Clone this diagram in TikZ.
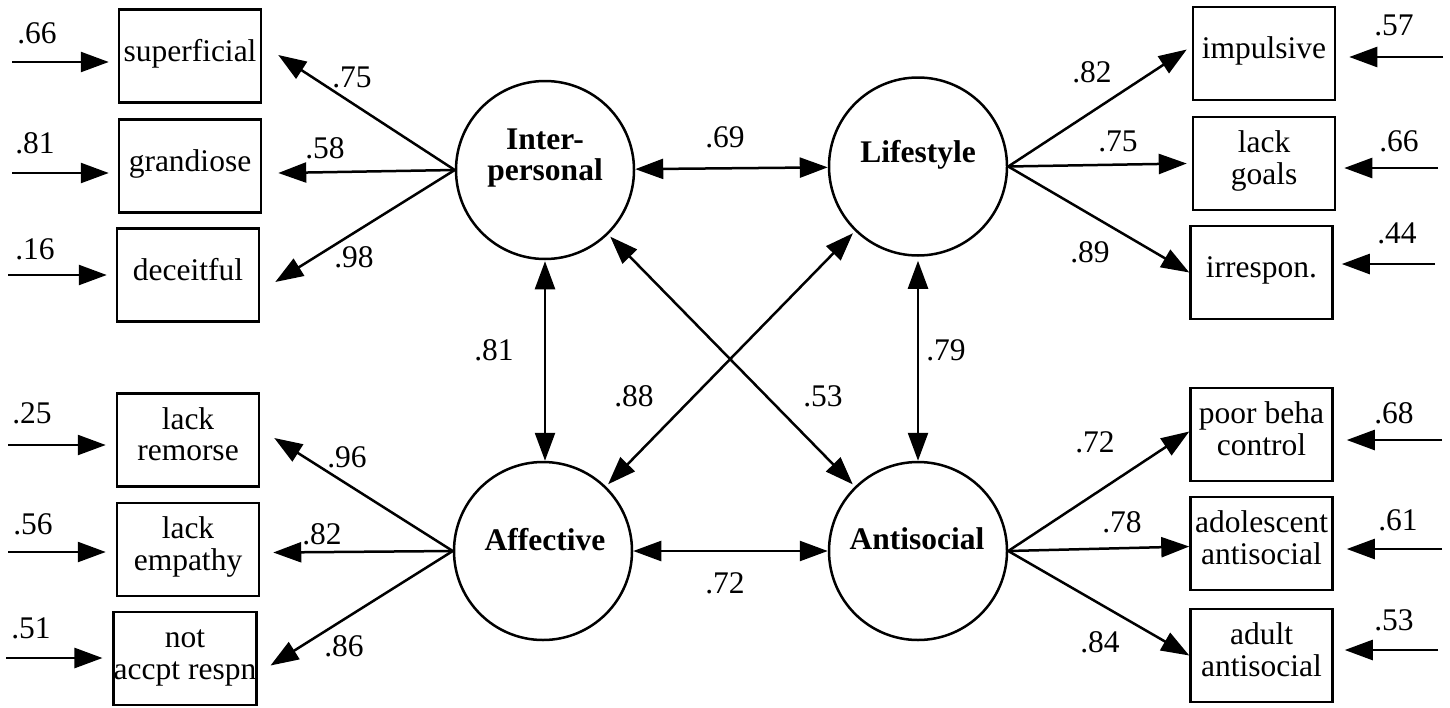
\documentclass[tikz,border=0pt]{standalone}
\usepackage{fontspec}
\setmainfont{Liberation Serif}
\usetikzlibrary{arrows.meta,calc}
\newcommand\dfont{\fontsize{31.5pt}{31.5pt}\selectfont\lineskiplimit=-1000pt\relax}
\newcommand\bstrut{\rule[-12pt]{0pt}{34pt}}
\begin{document}
\begin{tikzpicture}[x=1pt,y=-1pt,line width=2.5pt,font=\dfont,
  >={Triangle[length=28pt,width=20pt]},
  obs/.style={draw,rectangle,minimum width=142pt,minimum height=93pt,inner sep=0pt,align=center},
  latent/.style={draw,circle,minimum size=178pt,inner sep=0pt},
  lattext/.style={font=\dfont\bfseries,align=center,inner sep=0pt},
  lbl/.style={inner sep=0pt}]
\useasboundingbox (0,0) rectangle (1450,707);

% latent variables
\node[latent] (inter) at (545,170) {};
\node[latent] (life) at (918,166.5) {};
\node[latent] (aff) at (543,551) {};
\node[latent] (anti) at (918,551) {};
\node[lattext] (interT) at (545,158) {Inter-\\personal};
\node[lattext] (lifeT) at (918,155) {Lifestyle};
\node[lattext] (affT) at (545,540) {Affective};
\node[lattext] (antiT) at (917,539) {Antisocial};

% observed variables, left
\node[obs] (sup) at (190,56) {\bstrut superficial};
\node[obs] (gra) at (190,166) {\bstrut grandiose};
\node[obs] (dec) at (188,275) {\bstrut deceitful};
\node[obs] (rem) at (188,440) {\bstrut lack\\\bstrut remorse};
\node[obs] (emp) at (188,549.5) {\bstrut lack\\\bstrut empathy};
\node[obs] (nap) at (185,658.5) {\bstrut not\\\bstrut accpt respn};
% observed variables, right
\node[obs] (imp) at (1264,53.5) {\bstrut impulsive};
\node[obs] (goals) at (1264,163.5) {\bstrut lack\\\bstrut goals};
\node[obs] (irr) at (1261.5,272.5) {\bstrut irrespon.};
\node[obs] (poor) at (1261.5,434.5) {\bstrut poor beha\\\bstrut control};
\node[obs] (adol) at (1261.5,543.5) {\bstrut adolescent\\\bstrut antisocial};
\node[obs] (adult) at (1261.5,655.5) {\bstrut adult\\\bstrut antisocial};

% loadings
\draw[->] (inter.west) -- ($(sup.east)+(16,-1)$);
\draw[->] (inter.west) -- ($(gra.east)+(16,7)$);
\draw[->] (inter.west) -- ($(dec.east)+(15,7)$);
\draw[->] (aff.west) -- ($(rem.east)+(14,-2)$);
\draw[->] (aff.west) -- ($(emp.east)+(13,3)$);
\draw[->] (aff.west) -- ($(nap.east)+(13,7)$);
\draw[->] (life.east) -- ($(imp.west)+(-5,-4)$);
\draw[->] (life.east) -- ($(goals.west)+(-5,0)$);
\draw[->] (life.east) -- ($(irr.west)+(0,0)$);
\draw[->] (anti.east) -- ($(poor.west)+(0,-3)$);
\draw[->] (anti.east) -- ($(adol.west)+(0,3)$);
\draw[->] (anti.east) -- ($(adult.west)+(0,0)$);

\node[lbl] (l1) at (352,77) {.75};
\node[lbl] (l2) at (325,148) {.58};
\node[lbl] (l3) at (354,257) {.98};
\node[lbl] (l4) at (347,457) {.96};
\node[lbl] (l5) at (322,534) {.82};
\node[lbl] (l6) at (344,646) {.86};
\node[lbl] (l7) at (1092,72) {.82};
\node[lbl] (l8) at (1118,141) {.75};
\node[lbl] (l9) at (1090,252) {.89};
\node[lbl] (l10) at (1095,442) {.72};
\node[lbl] (l11) at (1122,522) {.78};
\node[lbl] (l12) at (1100,642) {.84};

% correlations
\draw[<->] (inter) -- (life);
\draw[<->] (aff) -- (anti);
\draw[<->,shorten <=1pt] (inter.south) -- (inter.south |- aff.north);
\draw[<->,shorten <=4pt] (life.south) -- (life.south |- anti.north);
\draw[<->,shorten <=3pt,shorten >=3pt] (inter) -- (anti);
\draw[<->,shorten <=3pt,shorten >=3pt] (life) -- (aff);
\node[lbl] (c1) at (725,137) {.69};
\node[lbl] (c2) at (725,583) {.72};
\node[lbl] (c3) at (494,350) {.81};
\node[lbl] (c4) at (946,350) {.79};
\node[lbl] (c5) at (634,396) {.88};
\node[lbl] (c6) at (823,396) {.53};

% error terms, left
\coordinate (s1) at (12,62);
\coordinate (s2) at (12,173);
\coordinate (s3) at (8,275);
\coordinate (s4) at (8,445);
\coordinate (s5) at (8,552);
\coordinate (s6) at (6,658);
\draw[->] (s1) -- ($(sup.west)+(-9,6)$);
\draw[->] (s2) -- ($(gra.west)+(-9,7)$);
\draw[->] (s3) -- ($(dec.west)+(-9,0)$);
\draw[->] (s4) -- ($(rem.west)+(-10,5)$);
\draw[->] (s5) -- ($(emp.west)+(-10,2.5)$);
\draw[->] (s6) -- ($(nap.west)+(-10,-0.5)$);
\node[lbl] (e1) at (37,33) {.66};
\node[lbl] (e2) at (35,143) {.81};
\node[lbl] (e3) at (35,249) {.16};
\node[lbl] (e4) at (32,413) {.25};
\node[lbl] (e5) at (33,524) {.56};
\node[lbl] (e6) at (31,628) {.51};
% error terms, right
\coordinate (r1) at (1443,57);
\coordinate (r2) at (1438,168);
\coordinate (r3) at (1435,264);
\coordinate (r4) at (1442,440);
\coordinate (r5) at (1442,549);
\coordinate (r6) at (1438,650);
\draw[->] (r1) -- ($(imp.east)+(13,3.5)$);
\draw[->] (r2) -- ($(goals.east)+(8,4.5)$);
\draw[->] (r3) -- ($(irr.east)+(8,-8.5)$);
\draw[->] (r4) -- ($(poor.east)+(13,5.5)$);
\draw[->] (r5) -- ($(adol.east)+(13,5.5)$);
\draw[->] (r6) -- ($(adult.east)+(11,-5.5)$);
\node[lbl] (f1) at (1394,25) {.57};
\node[lbl] (f2) at (1399,141) {.66};
\node[lbl] (f3) at (1397,233) {.44};
\node[lbl] (f4) at (1394,413) {.68};
\node[lbl] (f5) at (1398,520) {.61};
\node[lbl] (f6) at (1394,620) {.53};
\end{tikzpicture}
\end{document}
